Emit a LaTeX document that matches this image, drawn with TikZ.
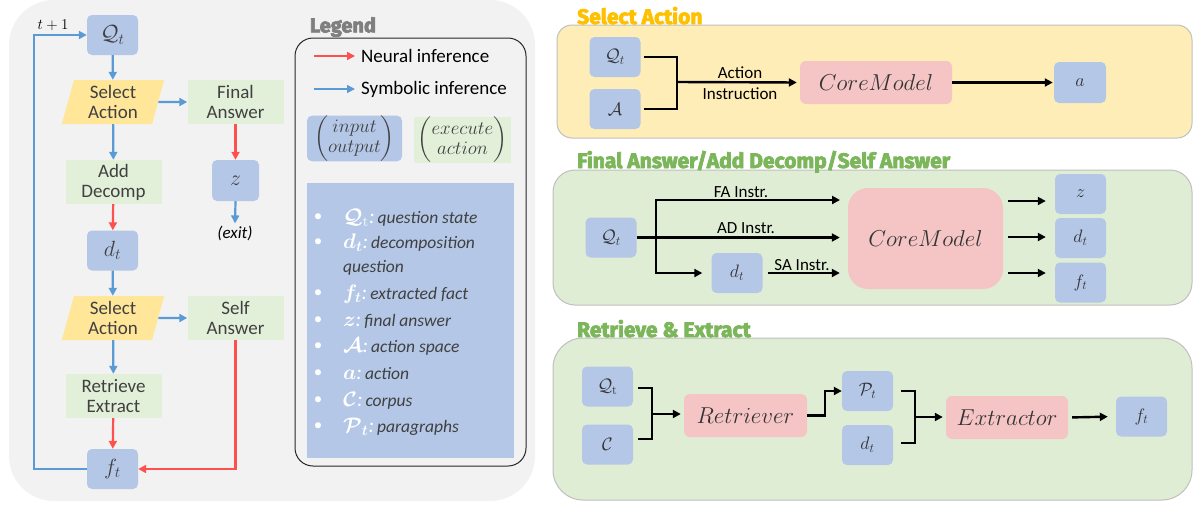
\documentclass[tikz,border=0pt]{standalone}
\usepackage{fix-cm}
\usepackage{amsmath,amssymb,bm}
\usepackage[no-math]{fontspec}
\setmainfont{Carlito}
\newfontfamily\ttlfont{Fira Sans}[UprightFeatures={FakeBold=3.5}, BoldFeatures={FakeBold=3.5}]
\usetikzlibrary{shapes.geometric,arrows.meta,calc}
\definecolor{bgray}{HTML}{F2F2F2}
\definecolor{iob}{HTML}{B4C7E7}
\definecolor{actg}{HTML}{E2F0D9}
\definecolor{sely}{HTML}{FFE699}
\definecolor{pnly}{HTML}{FFEDB8}
\definecolor{pnlg}{HTML}{DFEDD5}
\definecolor{pinkm}{HTML}{F5C5C5}
\definecolor{redA}{HTML}{FF5050}
\definecolor{bluA}{HTML}{5B9BD5}
\definecolor{txt}{HTML}{404040}
\definecolor{ttly}{HTML}{FFC000}
\definecolor{ttlg}{HTML}{7CB65A}
\definecolor{legc}{HTML}{7F7F7F}
\tikzset{
 io/.style={fill=iob, rounded corners=5pt, minimum width=51pt, minimum height=40pt, inner sep=0pt, text=txt},
 ioL/.style={io, font=\fontsize{22}{24}\selectfont},
 ioR/.style={io, font=\fontsize{18}{20}\selectfont, text=black!80},
 act/.style={fill=actg, minimum width=96pt, minimum height=44pt, inner sep=0pt, align=center, text=txt, font=\fontsize{19}{20}\selectfont},
 selbox/.style={trapezium, trapezium left angle=77, trapezium right angle=103, trapezium stretches=true, fill=sely, minimum width=103pt, minimum height=44pt, inner sep=0pt, align=center, text=txt, font=\fontsize{19}{20}\selectfont},
 model/.style={fill=pinkm, rounded corners=6pt, inner sep=0pt, text=black!80, font=\fontsize{23}{26}\selectfont},
 rarr/.style={draw=redA, line width=2.2pt, -{Triangle[length=8pt,width=8pt]}},
 barr/.style={draw=bluA, line width=2.2pt, -{Triangle[length=8pt,width=8pt]}},
 karr/.style={draw=black, line width=2.4pt, -{Triangle[length=8pt,width=8pt]}},
 kline/.style={draw=black, line width=2.4pt},
 panel/.style={draw=black!25, line width=1pt},
 ptitle/.style={font=\ttlfont\bfseries\fontsize{21}{24}\selectfont, anchor=base west, inner sep=0pt},
 lbl/.style={font=\fontsize{17}{19}\selectfont, inner sep=0pt, text=black},
 item/.style={anchor=west, inner sep=0pt, font=\fontsize{17.5}{20}\selectfont\itshape, text=txt},
 bul/.style={inner sep=0pt, text=white, font=\fontsize{17}{19}\selectfont}
}
\newcommand{\wm}[1]{{\color{white}\fontsize{21}{22}\selectfont$#1$:}\,}
\begin{document}
\begin{tikzpicture}[x=1pt,y=-1pt]
\useasboundingbox (0,0) rectangle (1198,504);
% ---------- left panel ----------
\fill[bgray, rounded corners=45pt] (9,0) rectangle (535,501);

\node[ioL] (q) at (112.5,35) {$\mathcal{Q}_t$};
\node[selbox] (s1) at (113,102) {Select\\Action};
\node[act] (fa) at (235.5,102) {Final\\Answer};
\node[act] (ad) at (113.5,182) {Add\\Decomp};
\node[ioL, minimum width=47pt, minimum height=41pt] (z) at (235.5,180.5) {$z$};
\node[inner sep=0pt, text=black, font=\fontsize{17}{19}\selectfont\itshape] (exit) at (235,233) {(exit)};
\node[ioL] (d) at (112.5,250.5) {$d_t$};
\node[selbox] (s2) at (113,318) {Select\\Action};
\node[act] (sa) at (235.5,318) {Self\\Answer};
\node[act] (re) at (113.5,396) {Retrieve\\Extract};
\node[ioL] (f) at (112.5,469) {$f_t$};

\draw[barr] (q) -- (s1);
\draw[barr] (s1.east) -- (fa.west);
\draw[barr] (s1) -- (ad);
\draw[rarr] (fa) -- (z);
\draw[barr] (z.south) -- ([yshift=2pt]exit.north);
\draw[rarr] (ad) -- (d);
\draw[barr] (d) -- (s2);
\draw[barr] (s2.east) -- (sa.west);
\draw[barr] (s2) -- (re);
\draw[rarr] (re) -- (f);
\draw[rarr] (sa.south) |- (f.east);
\coordinate (loopc) at (34,469);
\draw[barr] (f.west) -- (loopc) |- (q.west);
\node[inner sep=0pt, font=\fontsize{15}{17}\selectfont] (tl) at (53,25) {$t+1$};

% ---------- legend ----------
\node[font=\ttlfont\bfseries\fontsize{20}{22}\selectfont, text=legc, inner sep=0pt] (legt) at (343,27) {Legend};
\node[draw=black!85, line width=1pt, rounded corners=18pt, minimum width=231pt, minimum height=428pt] (legbox) at (410.5,252) {};
\node[anchor=west, inner sep=0pt, font=\fontsize{19}{21}\selectfont] (nl) at (361,56) {Neural inference};
\node[anchor=west, inner sep=0pt, font=\fontsize{19}{21}\selectfont] (sl) at (361,89) {Symbolic inference};
\coordinate (nls) at (314,56);
\coordinate (sls) at (314,89);
\draw[rarr, line width=1.6pt] (nls) -- ([xshift=-6pt]nl.west);
\draw[barr, line width=1.6pt] (sls) -- ([xshift=-6pt]sl.west);
\node[fill=iob, rounded corners=5pt, minimum width=95pt, minimum height=41pt, inner sep=0pt, text=txt, font=\fontsize{19}{20}\selectfont] (lio) at (354.5,138.5) {$\begin{pmatrix}input\\output\end{pmatrix}$};
\node[fill=actg, minimum width=97pt, minimum height=44pt, inner sep=0pt, text=txt, font=\fontsize{19}{20}\selectfont] (lex) at (462.5,140) {$\begin{pmatrix}execute\\action\end{pmatrix}$};
\node[fill=iob, minimum width=207pt, minimum height=275pt, inner sep=0pt] (lbig) at (410.5,320.5) {};
\foreach \yy in {218,243,294,321,347,374,401,427} {\node[bul] at (318,\yy) {\textbullet};}
\node[item] (i1) at (343,218) {\wm{\bm{\mathcal{Q}}_{\mathrm{t}}}question state};
\node[item] (i2) at (343,243) {\wm{\bm{d}_{\bm{t}}}decomposition};
\node[item] (i2b) at (343,268) {question};
\node[item] (i3) at (343,294) {\wm{\bm{f}_{\bm{t}}}extracted fact};
\node[item] (i4) at (343,321) {\wm{\bm{z}}final answer};
\node[item] (i5) at (343,347) {\wm{\bm{\mathcal{A}}}action space};
\node[item] (i6) at (343,374) {\wm{\bm{a}}action};
\node[item] (i7) at (343,401) {\wm{\bm{\mathcal{C}}}corpus};
\node[item] (i8) at (343,427) {\wm{\bm{\mathcal{P}}_{\bm{t}}}paragraphs};

% ---------- panel 1: Select Action ----------
\draw[panel, fill=pnly, rounded corners=15pt] (557,25) rectangle (1192,138);
\node[ptitle, text=ttly] (t1) at (577,24) {Select Action};
\node[ioR] (q1) at (615,57) {$\mathcal{Q}_t$};
\node[ioR] (a1) at (615,109) {$\mathcal{A}$};
\coordinate (j1) at (677,82);
\draw[kline] ([xshift=3pt]q1.east) -| (j1);
\draw[kline] ([xshift=3pt]a1.east) -| (j1);
\node[model, minimum width=152pt, minimum height=43pt] (c1) at (876,82.5) {$CoreModel$};
\draw[karr, shorten >=3pt] (j1) -- (c1.west);
\node[lbl] (l1a) at (740,73) {Action};
\node[lbl] (l1b) at (740,94) {Instruction};
\node[ioR, minimum width=52pt, minimum height=41pt] (ao) at (1080,82.5) {$a$};
\draw[karr, shorten >=1pt] (c1.east) -- (ao.west);

% ---------- panel 2 ----------
\draw[panel, fill=pnlg, rounded corners=22pt] (553,170) rectangle (1192,305);
\node[ptitle, text=ttlg] (t2) at (577,168) {Final Answer/Add Decomp/Self Answer};
\node[ioR] (q2) at (611,237.5) {$\mathcal{Q}_t$};
\node[model, rounded corners=20pt, minimum width=155pt, minimum height=101pt] (c2) at (925.5,238.5) {$CoreModel$};
\node[ioR] (d2) at (737,273) {$d_t$};
\coordinate (b2) at (656,238);
\coordinate (fae) at (840,200);
\draw[karr, shorten >=8pt] (q2.east) -- (q2.east -| c2.west);
\draw[karr] (b2) |- (fae);
\draw[karr, shorten >=9pt] (b2) |- (d2.west);
\draw[karr, shorten >=8pt, shorten <=5pt] (d2.east) -- (d2.east -| c2.west);
\node[lbl] (l2a) at (741,192) {FA Instr.};
\node[lbl] (l2b) at (746,228) {AD Instr.};
\node[lbl] (l2c) at (802,265) {SA Instr.};
\node[ioR] (z2) at (1080.5,194) {$z$};
\node[ioR] (dd2) at (1080.5,238) {$d_t$};
\node[ioR] (f2) at (1080.5,282.5) {$f_t$};
\coordinate (o1) at (1008,201);
\coordinate (o2) at (1008,237);
\coordinate (o3) at (1008,273);
\draw[karr, shorten >=9pt] (o1) -- (o1 -| z2.west);
\draw[karr, shorten >=9pt] (o2) -- (o2 -| dd2.west);
\draw[karr, shorten >=9pt] (o3) -- (o3 -| f2.west);

% ---------- panel 3 ----------
\draw[panel, fill=pnlg, rounded corners=30pt] (553,338) rectangle (1192,500);
\node[ptitle, text=ttlg] (t3) at (577,337) {Retrieve \& Extract};
\node[ioR] (q3) at (607.5,386.5) {$\mathcal{Q}_{\mathrm{t}}$};
\node[ioR] (c3) at (607.5,444.5) {$\mathcal{C}$};
\coordinate (j3) at (652,414);
\draw[kline] ([xshift=5pt]q3.east |- 0,388) -| (j3);
\draw[kline] ([xshift=5pt]c3.east |- 0,439) -| (j3);
\node[model, minimum width=123pt, minimum height=43pt] (ret) at (745.5,415.5) {$Retriever$};
\draw[karr, shorten >=3pt] (j3) -- (ret.west |- j3);
\node[ioR] (p3) at (867.5,391) {$\mathcal{P}_t$};
\node[ioR] (d3) at (867.5,445) {$d_t$};
\draw[karr] (ret.east) -- ++(18,0) |- (p3.west);
\coordinate (j4) at (915,417);
\draw[kline] ([xshift=8pt]p3.east) -| (j4);
\draw[kline] ([xshift=8pt]d3.east |- 0,443) -| (j4);
\node[model, minimum width=122pt, minimum height=43pt] (ext) at (1007,417.5) {$Extractor$};
\draw[karr, shorten >=3pt] (j4) -- (ext.west |- j4);
\node[ioR] (f3) at (1141.5,416.5) {$f_t$};
\draw[karr, shorten >=8pt, shorten <=4pt] (ext.east) -- (f3.west);
\end{tikzpicture}
\end{document}
